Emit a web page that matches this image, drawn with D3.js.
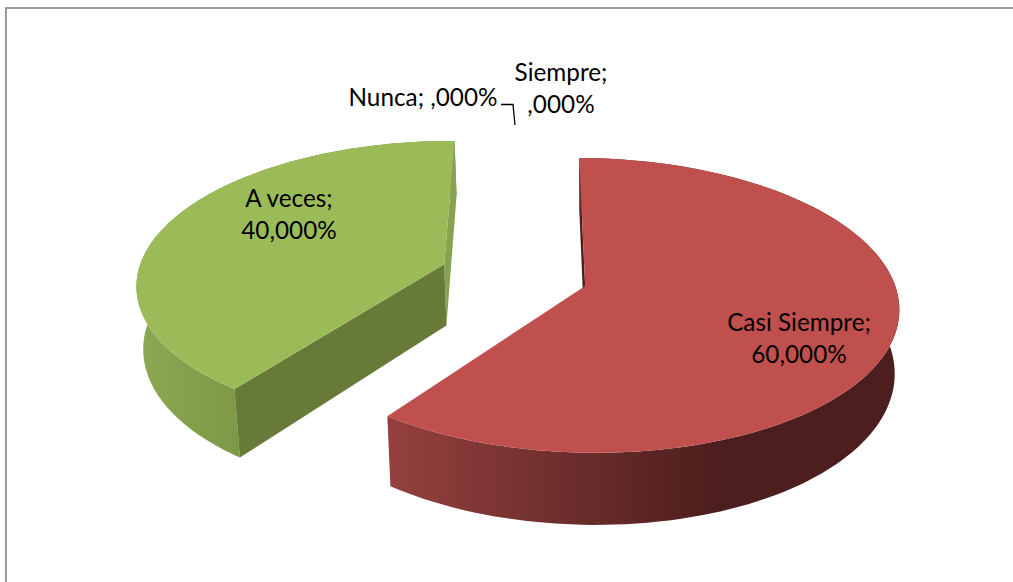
<!DOCTYPE html>
<html><head><meta charset="utf-8">
<script src="https://d3js.org/d3.v7.min.js"></script>
<style>html,body{margin:0;padding:0;background:#fff}svg{display:block}text{font-family:Lato,sans-serif;font-size:24.3px;fill:#000;text-anchor:middle}</style>
</head><body>
<script>
const categories = ["Siempre","Casi Siempre","A veces","Nunca"];
const seriesValues = [0,60,40,0];
const topColors = {"Casi Siempre":"#c0504d","A veces":"#9bbb59"};
const fmt = v => (v===0?"":String(v))+",000%";

const W=1013,H=582;
const svg=d3.select("body").append("svg").attr("width",W).attr("height",H);
const defs=svg.append("defs");
function grad(id,x1,x2,stops){
  const g=defs.append("linearGradient").attr("id",id).attr("gradientUnits","userSpaceOnUse")
    .attr("x1",x1).attr("x2",x2).attr("y1",0).attr("y2",0);
  stops.forEach(s=>g.append("stop").attr("offset",s[0]).attr("stop-color",s[1]));
}
grad("wallRed",393,905,[[0,"#93403e"],[0.64,"#4c1e1d"],[1,"#4c1e1d"]]);
grad("wallGreen",140,245,[[0,"#8ba852"],[1,"#7c9746"]]);

svg.append("path").attr("d","M6,582V8H1013").attr("fill","none").attr("stroke","#9a9a9a").attr("stroke-width",2);

// perspective projection of the pie plane
const x0=514,y0=275,A=307,B=142,k=0.13,explode=0.242,depth=62,xc=590;
const rot=0.5*Math.PI/180;
const pie=d3.pie().sort(null).startAngle(rot).endAngle(rot+2*Math.PI).value(d=>d.v);
const arcs=pie(categories.map((c,i)=>({c,v:seriesValues[i]})));
const line=d3.line().x(d=>d[0]).y(d=>d[1]);
function proj(X,Y){const w=1+k*Y;return [x0+A*X/w,y0-B*Y/w,w];}
function low(p){return [xc+(p[0]-xc)*0.985,p[1]+depth/p[2]];}

function slice(a,name,parts){
  const mid=(a.startAngle+a.endAngle)/2, cx=Math.sin(mid)*explode, cy=Math.cos(mid)*explode;
  const rim=d3.range(0,121).map(i=>{
    const t=a.startAngle+(a.endAngle-a.startAngle)*i/120;
    return proj(cx+Math.sin(t),cy+Math.cos(t));
  });
  const apex=proj(cx,cy), g=svg.append("g");
  if(parts.opening && name==="Casi Siempre") g.append("path").attr("d",line([rim[0],apex,low(apex),low(rim[0])])+"Z").attr("fill",parts.opening);
  g.append("path").attr("d",line(rim.concat(rim.map(low).reverse()))+"Z").attr("fill",parts.wall);
  if(parts.closing) g.append("path").attr("d",line([rim[120],apex,low(apex),low(rim[120])])+"Z").attr("fill",parts.closing);
  if(parts.opening && name!=="Casi Siempre") g.append("path").attr("d",line([rim[0],apex,low(apex),low(rim[0])])+"Z").attr("fill",parts.opening);
  g.append("path").attr("d",line([apex].concat(rim))+"Z").attr("fill",topColors[name]);
}
slice(arcs[2],"A veces",{wall:"url(#wallGreen)",closing:"#87a350",opening:"#677a38"});
slice(arcs[1],"Casi Siempre",{wall:"url(#wallRed)",opening:"#4c1e1d"});

function label(lines,x,y){
  const t=svg.append("text");
  lines.forEach((l,i)=>t.append("tspan").attr("x",x).attr("y",y+i*32).text(l));
}
label([categories[1]+";",fmt(seriesValues[1])],799,331);
label([categories[2]+";",fmt(seriesValues[2])],289,207);
label([categories[0]+";",fmt(seriesValues[0])],561,81);
label([categories[3]+"; "+fmt(seriesValues[3])],423,106);
svg.append("path").attr("d","M501,104.5H513L515,125").attr("fill","none").attr("stroke","#000").attr("stroke-width",1.3);
</script>
</body></html>
